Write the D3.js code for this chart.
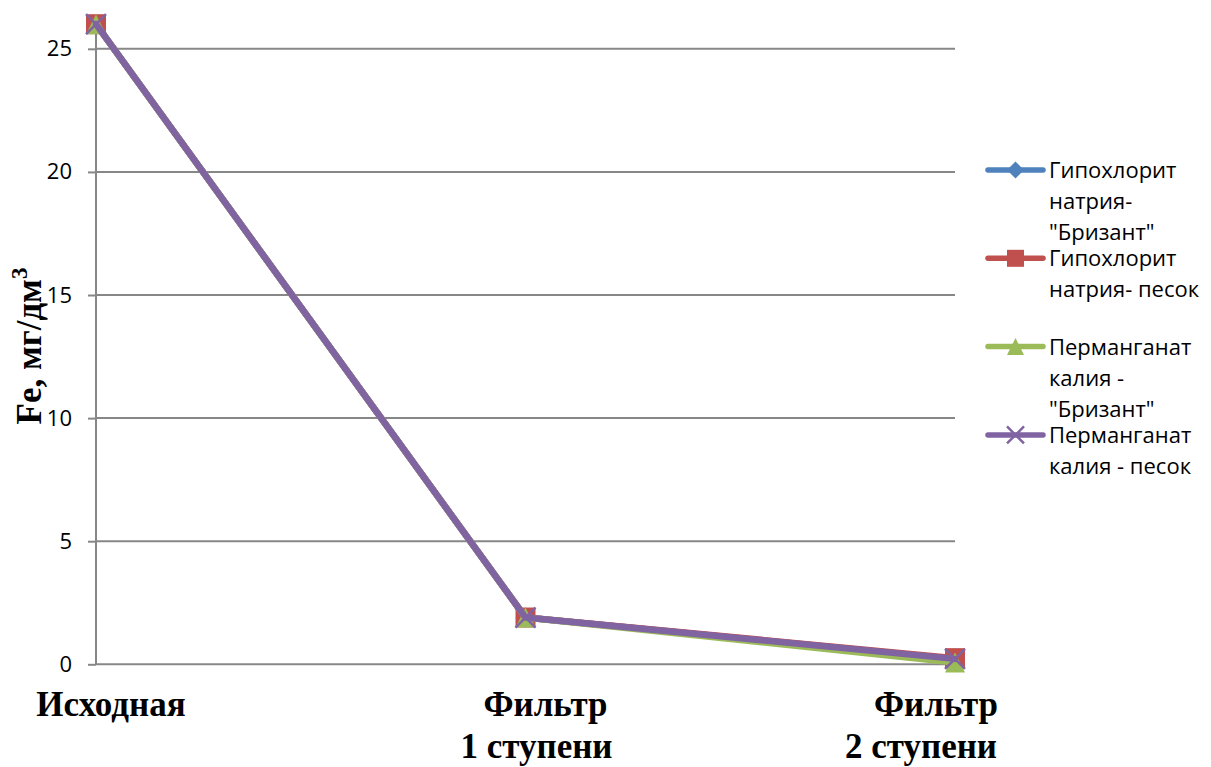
<!DOCTYPE html>
<html lang="ru">
<head>
<meta charset="utf-8">
<title>Fe, мг/дм3</title>
<script src="https://cdn.jsdelivr.net/npm/d3@7"></script>
<style>
  html, body { margin: 0; padding: 0; background: #ffffff; }
  svg { display: block; }
</style>
</head>
<body>
<svg id="chart" width="1211" height="767"></svg>
<script>
// Sampling stages along the treatment line
const categories = ["Исходная", "Фильтр 1 ступени", "Фильтр 2 ступени"];
const categoryLines = [["Исходная"], ["Фильтр", "1 ступени"], ["Фильтр", "2 ступени"]];

// Series names (legend lines) and Fe concentrations, mg/dm3
const seriesNames = [
  ["Гипохлорит", "натрия-", "\"Бризант\""],
  ["Гипохлорит", "натрия- песок"],
  ["Перманганат", "калия -", "\"Бризант\""],
  ["Перманганат", "калия - песок"]
];
const hypoBrizant = [26, 1.9, 0.2];
const hypoSand    = [26, 1.9, 0.25];
const permBrizant = [26, 1.9, 0.07];
const permSand    = [26, 1.9, 0.22];

const yTicks = [0, 5, 10, 15, 20, 25];

const seriesColors = ["#4F81BD", "#C0504D", "#9BBB59", "#8064A2"];
const seriesMarkers = ["diamond", "square", "triangle", "cross"];
const seriesValues = [hypoBrizant, hypoSand, permBrizant, permSand];

const svg = d3.select("#chart");

const x = d3.scalePoint().domain(categories).range([96, 955]);
const y = d3.scaleLinear().domain([0, 26]).range([664.3, 24.2]);

const gridColor = "#878787";

// Horizontal gridlines
svg.append("g")
  .selectAll("line")
  .data(yTicks.filter(t => t > 0))
  .join("line")
  .attr("x1", 96).attr("x2", 955)
  .attr("y1", d => y(d)).attr("y2", d => y(d))
  .attr("stroke", gridColor).attr("stroke-width", 2);

// Value axis
const yAxis = d3.axisLeft(y).tickValues(yTicks).tickSize(8).tickPadding(16).tickFormat(d3.format("d"));
const yG = svg.append("g").attr("transform", "translate(96,0)").call(yAxis);
yG.select(".domain").attr("stroke", gridColor).attr("stroke-width", 2)
  .attr("d", `M0,${y(26)}V${y(0)}`);
yG.selectAll(".tick line").attr("stroke", gridColor).attr("stroke-width", 2);
yG.selectAll(".tick text")
  .attr("font-family", "'Open Sans', 'Noto Sans', sans-serif")
  .attr("font-size", 22)
  .attr("fill", "#000");

// Category axis line
svg.append("line")
  .attr("x1", 96).attr("x2", 955)
  .attr("y1", y(0)).attr("y2", y(0))
  .attr("stroke", gridColor).attr("stroke-width", 2);

// Category labels
const labelDx = [[15], [20, 11], [-19, -34]];
const labelG = svg.append("g")
  .attr("font-family", "'Liberation Serif', 'Times New Roman', serif")
  .attr("font-weight", "bold")
  .attr("font-size", 35)
  .attr("fill", "#000")
  .attr("text-anchor", "middle");
categories.forEach((c, i) => {
  categoryLines[i].forEach((line, j) => {
    labelG.append("text")
      .attr("x", x(c) + labelDx[i][j])
      .attr("y", 716 + j * 42)
      .text(line);
  });
});

// Axis title
const title = svg.append("text")
  .attr("transform", "translate(41,346) rotate(-90)")
  .attr("text-anchor", "middle")
  .attr("font-family", "'Liberation Serif', 'Times New Roman', serif")
  .attr("font-weight", "bold")
  .attr("font-size", 35)
  .attr("fill", "#000");
title.append("tspan").text("Fe, мг/дм");
title.append("tspan").attr("font-size", 23).attr("dy", -14).text("3");

// Marker shapes
function drawMarker(g, type, color, size) {
  const h = size / 2;
  if (type === "diamond") {
    g.append("path").attr("d", `M0,${-h}L${h},0L0,${h}L${-h},0Z`).attr("fill", color);
  } else if (type === "square") {
    g.append("rect").attr("x", -h).attr("y", -h).attr("width", size).attr("height", size).attr("fill", color);
  } else if (type === "triangle") {
    g.append("path").attr("d", `M0,${-h}L${h},${h}L${-h},${h}Z`).attr("fill", color);
  } else if (type === "cross") {
    g.append("path").attr("d", `M${-h},${-h}L${h},${h}M${-h},${h}L${h},${-h}`)
      .attr("stroke", color).attr("stroke-width", 2.5).attr("fill", "none");
  }
}

// Series lines and markers
const line = d3.line().x((d, i) => x(categories[i])).y(d => y(d));
seriesValues.forEach((vals, s) => {
  const g = svg.append("g");
  g.append("path")
    .attr("d", line(vals))
    .attr("fill", "none")
    .attr("stroke", seriesColors[s])
    .attr("stroke-width", 6.5)
    .attr("stroke-linejoin", "round")
    .attr("stroke-linecap", "round");
  vals.forEach((v, i) => {
    const m = g.append("g").attr("transform", `translate(${x(categories[i])},${y(v)})`);
    drawMarker(m, seriesMarkers[s], seriesColors[s], 20);
  });
});

// Legend
const legend = svg.append("g");
seriesNames.forEach((lines, s) => {
  const base = 178 + s * 88.3;
  const ly = base - 8;
  legend.append("line")
    .attr("x1", 988).attr("x2", 1043)
    .attr("y1", ly).attr("y2", ly)
    .attr("stroke", seriesColors[s]).attr("stroke-width", 5.5)
    .attr("stroke-linecap", "round");
  const m = legend.append("g").attr("transform", `translate(1015.5,${ly})`);
  drawMarker(m, seriesMarkers[s], seriesColors[s], 17);
  lines.forEach((t, j) => {
    legend.append("text")
      .attr("x", 1049)
      .attr("y", base + j * 31)
      .attr("font-family", "'Open Sans', 'Noto Sans', sans-serif")
      .attr("font-size", 22)
      .attr("fill", "#000")
      .text(t);
  });
});
</script>
</body>
</html>
